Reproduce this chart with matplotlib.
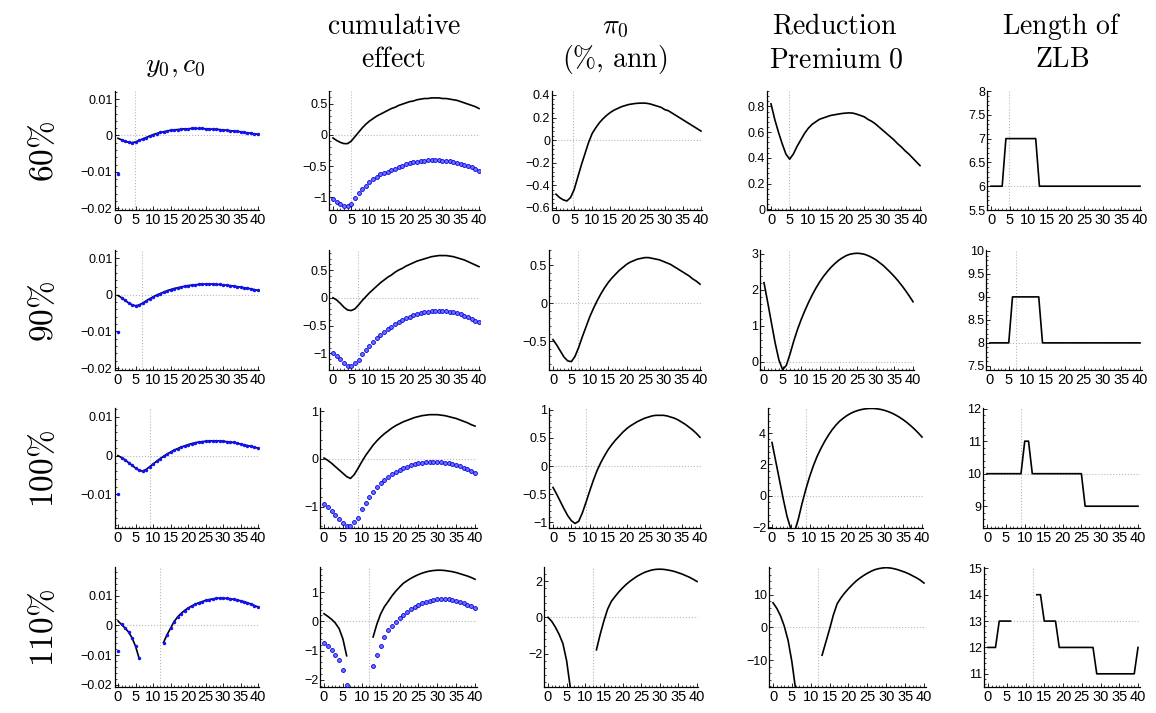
import numpy as np
import matplotlib
matplotlib.use('Agg')
import matplotlib.pyplot as plt
from matplotlib.ticker import MultipleLocator, AutoMinorLocator, FuncFormatter

plt.rcParams['mathtext.fontset'] = 'cm'
plt.rcParams['font.family'] = ['Liberation Sans', 'DejaVu Sans']

t = np.arange(41)

# ---------------- data ----------------
row_labels = ['60%', '90%', '100%', '110%']
zlb_marker = [4.8, 6.8, 9.0, 12.0]

# 60%
y0_60 = [-0.0008, -0.0012, -0.0016, -0.0019, -0.0020, -0.0018, -0.0014, -0.0010, -0.0006, -0.0002,
         0.0002, 0.0005, 0.0008, 0.0010, 0.0012, 0.0014, 0.0015, 0.0016, 0.0017, 0.0018,
         0.0018, 0.0019, 0.0019, 0.0019, 0.0019, 0.0018, 0.0018, 0.0017, 0.0017, 0.0016,
         0.0015, 0.0014, 0.0013, 0.0012, 0.0011, 0.0010, 0.0008, 0.0007, 0.0006, 0.0004, 0.0003]
c0_60 = [-0.0105] + y0_60[1:]
cum_line_60 = [-0.05, -0.09, -0.12, -0.14, -0.14, -0.10, -0.03, 0.04, 0.11, 0.17,
               0.22, 0.26, 0.30, 0.33, 0.36, 0.39, 0.42, 0.44, 0.47, 0.49,
               0.51, 0.53, 0.54, 0.56, 0.57, 0.58, 0.58, 0.59, 0.59, 0.59,
               0.58, 0.58, 0.57, 0.56, 0.55, 0.53, 0.51, 0.49, 0.47, 0.45, 0.42]
cum_dots_60 = [-1.03, -1.08, -1.11, -1.13, -1.13, -1.10, -1.01, -0.93, -0.86, -0.81,
               -0.76, -0.71, -0.67, -0.63, -0.61, -0.59, -0.56, -0.54, -0.51, -0.49,
               -0.47, -0.45, -0.44, -0.43, -0.42, -0.41, -0.40, -0.40, -0.40, -0.40,
               -0.41, -0.41, -0.42, -0.43, -0.45, -0.46, -0.48, -0.50, -0.52, -0.54, -0.57]
pi_60 = [-0.48, -0.51, -0.53, -0.54, -0.51, -0.44, -0.33, -0.22, -0.12, -0.02,
         0.06, 0.11, 0.155, 0.19, 0.22, 0.245, 0.265, 0.28, 0.295, 0.305,
         0.315, 0.32, 0.325, 0.327, 0.328, 0.326, 0.32, 0.31, 0.30, 0.29,
         0.27, 0.26, 0.24, 0.22, 0.20, 0.18, 0.16, 0.14, 0.12, 0.10, 0.08]
prem_60 = [0.82, 0.70, 0.60, 0.51, 0.43, 0.39, 0.43, 0.49, 0.54, 0.59,
           0.63, 0.66, 0.68, 0.70, 0.71, 0.72, 0.73, 0.735, 0.74, 0.745,
           0.748, 0.75, 0.748, 0.74, 0.73, 0.72, 0.70, 0.685, 0.665, 0.64,
           0.615, 0.59, 0.565, 0.54, 0.51, 0.485, 0.455, 0.43, 0.40, 0.37, 0.34]
zlb_60 = [6, 6, 6, 6, 7, 7, 7, 7, 7, 7,
          7, 7, 7, 6, 6, 6, 6, 6, 6, 6,
          6, 6, 6, 6, 6, 6, 6, 6, 6, 6,
          6, 6, 6, 6, 6, 6, 6, 6, 6, 6, 6]

# 90%
y0_90 = [-0.0002, -0.0008, -0.0015, -0.0022, -0.0027, -0.0030, -0.0028, -0.0023, -0.0017, -0.0011,
         -0.0006, -0.0001, 0.0003, 0.0007, 0.0011, 0.0014, 0.0017, 0.0019, 0.0021, 0.0023,
         0.0025, 0.0026, 0.0027, 0.0028, 0.0029, 0.0029, 0.0029, 0.0029, 0.0028, 0.0028,
         0.0027, 0.0026, 0.0025, 0.0024, 0.0022, 0.0021, 0.0019, 0.0018, 0.0016, 0.0014, 0.0012]
c0_90 = [-0.0102] + y0_90[1:]
cum_line_90 = [0.00, -0.04, -0.10, -0.17, -0.22, -0.23, -0.20, -0.13, -0.05, 0.02,
               0.09, 0.15, 0.21, 0.27, 0.32, 0.37, 0.41, 0.46, 0.50, 0.53,
               0.57, 0.60, 0.63, 0.66, 0.68, 0.70, 0.72, 0.74, 0.75, 0.76,
               0.76, 0.76, 0.75, 0.74, 0.72, 0.70, 0.68, 0.65, 0.62, 0.59, 0.56]
cum_dots_90 = [-0.99, -1.04, -1.11, -1.18, -1.22, -1.23, -1.18, -1.12, -1.02, -0.94,
               -0.86, -0.79, -0.73, -0.67, -0.62, -0.57, -0.52, -0.48, -0.44, -0.40,
               -0.37, -0.34, -0.31, -0.29, -0.27, -0.26, -0.25, -0.24, -0.23, -0.23,
               -0.23, -0.24, -0.25, -0.26, -0.28, -0.30, -0.32, -0.35, -0.38, -0.41, -0.44]
pi_90 = [-0.48, -0.55, -0.63, -0.71, -0.76, -0.77, -0.70, -0.58, -0.44, -0.31,
         -0.18, -0.07, 0.03, 0.12, 0.20, 0.27, 0.33, 0.38, 0.43, 0.47,
         0.51, 0.54, 0.56, 0.58, 0.59, 0.60, 0.60, 0.59, 0.58, 0.57,
         0.55, 0.53, 0.51, 0.48, 0.45, 0.42, 0.39, 0.36, 0.32, 0.29, 0.25]
prem_90 = [2.20, 1.65, 1.08, 0.52, 0.05, -0.22, -0.10, 0.22, 0.58, 0.90,
           1.18, 1.43, 1.66, 1.87, 2.06, 2.23, 2.38, 2.51, 2.63, 2.73,
           2.82, 2.89, 2.95, 2.99, 3.01, 3.02, 3.01, 2.99, 2.95, 2.90,
           2.84, 2.76, 2.68, 2.58, 2.48, 2.37, 2.25, 2.12, 1.98, 1.83, 1.67]
zlb_90 = [8, 8, 8, 8, 8, 8, 9, 9, 9, 9,
          9, 9, 9, 9, 8, 8, 8, 8, 8, 8,
          8, 8, 8, 8, 8, 8, 8, 8, 8, 8,
          8, 8, 8, 8, 8, 8, 8, 8, 8, 8, 8]

# 100%
y0_100 = [0.0000, -0.0005, -0.0011, -0.0018, -0.0025, -0.0032, -0.0038, -0.0040, -0.0036, -0.0029,
          -0.0022, -0.0015, -0.0008, -0.0002, 0.0004, 0.0009, 0.0014, 0.0018, 0.0022, 0.0025,
          0.0028, 0.0031, 0.0033, 0.0035, 0.0036, 0.0037, 0.0038, 0.0038, 0.0038, 0.0038,
          0.0037, 0.0036, 0.0035, 0.0034, 0.0032, 0.0030, 0.0028, 0.0026, 0.0024, 0.0022, 0.0019]
c0_100 = [-0.0098] + y0_100[1:]
cum_line_100 = [0.02, -0.03, -0.09, -0.16, -0.23, -0.30, -0.37, -0.41, -0.33, -0.20,
                -0.06, 0.07, 0.18, 0.29, 0.38, 0.46, 0.53, 0.59, 0.65, 0.70,
                0.74, 0.78, 0.81, 0.84, 0.87, 0.89, 0.91, 0.92, 0.93, 0.93,
                0.93, 0.92, 0.91, 0.89, 0.87, 0.85, 0.82, 0.79, 0.76, 0.72, 0.69]
cum_dots_100 = [-0.95, -1.01, -1.09, -1.18, -1.27, -1.34, -1.40, -1.40, -1.33, -1.23,
                -1.06, -0.92, -0.80, -0.69, -0.59, -0.51, -0.44, -0.38, -0.32, -0.27,
                -0.23, -0.19, -0.16, -0.13, -0.11, -0.09, -0.08, -0.07, -0.06, -0.06,
                -0.06, -0.07, -0.08, -0.09, -0.11, -0.13, -0.15, -0.18, -0.21, -0.25, -0.29]
pi_100 = [-0.38, -0.50, -0.63, -0.76, -0.88, -0.97, -1.02, -0.98, -0.83, -0.64,
          -0.44, -0.25, -0.08, 0.06, 0.18, 0.29, 0.38, 0.46, 0.53, 0.60,
          0.66, 0.71, 0.75, 0.79, 0.82, 0.85, 0.87, 0.89, 0.90, 0.90,
          0.90, 0.89, 0.87, 0.85, 0.82, 0.78, 0.74, 0.69, 0.64, 0.58, 0.51]
prem_100 = [3.4, 2.2, 1.0, -0.2, -1.3, -2.1, -2.3, -1.5, -0.5, 0.4,
            1.2, 1.9, 2.5, 3.0, 3.45, 3.85, 4.2, 4.5, 4.75, 4.95,
            5.12, 5.26, 5.37, 5.45, 5.51, 5.55, 5.57, 5.57, 5.55, 5.51,
            5.45, 5.37, 5.27, 5.15, 5.01, 4.85, 4.67, 4.47, 4.25, 4.01, 3.75]
zlb_100 = [10, 10, 10, 10, 10, 10, 10, 10, 10, 10,
           11, 11, 10, 10, 10, 10, 10, 10, 10, 10,
           10, 10, 10, 10, 10, 10, 9, 9, 9, 9,
           9, 9, 9, 9, 9, 9, 9, 9, 9, 9, 9]

# 110% (no solution between t=7 and t=12)
y0_110 = [0.0015, 0.0003, -0.0009, -0.0022, -0.0042, -0.0070, -0.0110, None, None, None,
          None, None, None, -0.0058, -0.0032, -0.0010, 0.0012, 0.0028, 0.0040, 0.0050,
          0.0058, 0.0065, 0.0071, 0.0076, 0.0080, 0.0084, 0.0087, 0.0089, 0.0091, 0.0092,
          0.0092, 0.0091, 0.0090, 0.0088, 0.0086, 0.0083, 0.0080, 0.0076, 0.0072, 0.0067, 0.0062]
c0_110 = [-0.0085] + y0_110[1:]
cum_line_110 = [0.26, 0.17, 0.07, -0.06, -0.25, -0.60, -1.18, None, None, None,
                None, None, None, -0.54, -0.10, 0.25, 0.50, 0.68, 0.87, 1.03,
                1.17, 1.30, 1.39, 1.47, 1.54, 1.60, 1.65, 1.69, 1.72, 1.74,
                1.75, 1.75, 1.74, 1.72, 1.70, 1.67, 1.63, 1.59, 1.55, 1.50, 1.44]
cum_dots_110 = [-0.73, -0.86, -0.99, -1.15, -1.33, -1.68, -2.19, None, None, None,
                None, None, None, -1.54, -1.14, -0.84, -0.54, -0.31, -0.15, -0.02,
                0.11, 0.22, 0.32, 0.41, 0.49, 0.56, 0.62, 0.67, 0.71, 0.74,
                0.76, 0.77, 0.76, 0.75, 0.73, 0.70, 0.66, 0.62, 0.57, 0.51, 0.45]
pi_110 = [0.0, -0.22, -0.55, -0.95, -1.45, -2.40, -3.90, None, None, None,
          None, None, None, -1.80, -0.95, -0.20, 0.45, 0.88, 1.15, 1.40,
          1.62, 1.82, 1.99, 2.14, 2.28, 2.39, 2.49, 2.56, 2.62, 2.65,
          2.66, 2.65, 2.62, 2.58, 2.53, 2.46, 2.39, 2.30, 2.21, 2.10, 1.98]
prem_110 = [7.5, 5.8, 3.5, 0.3, -4.0, -10.5, -19.0, None, None, None,
            None, None, None, -8.5, -4.5, -0.5, 3.8, 7.2, 9.0, 10.5,
            11.8, 13.0, 14.1, 15.0, 15.8, 16.5, 17.1, 17.6, 17.9, 18.1,
            18.2, 18.1, 17.9, 17.6, 17.2, 16.8, 16.3, 15.7, 15.1, 14.4, 13.5]
zlb_110 = [12, 12, 12, 13, 13, 13, 13, None, None, None,
           None, None, None, 14, 14, 13, 13, 13, 13, 12,
           12, 12, 12, 12, 12, 12, 12, 12, 12, 11,
           11, 11, 11, 11, 11, 11, 11, 11, 11, 11, 12]

rows = [
    (y0_60, c0_60, cum_line_60, cum_dots_60, pi_60, prem_60, zlb_60),
    (y0_90, c0_90, cum_line_90, cum_dots_90, pi_90, prem_90, zlb_90),
    (y0_100, c0_100, cum_line_100, cum_dots_100, pi_100, prem_100, zlb_100),
    (y0_110, c0_110, cum_line_110, cum_dots_110, pi_110, prem_110, zlb_110),
]

# ---------------- layout (pixels) ----------------
W, H = 1156, 713
row_px = [(91, 210), (250, 370), (408, 528), (567, 687)]
col_px = [
    [(118, 258), (333, 479), (556, 701), (771, 920), (991, 1140)],
    [(118, 258), (333, 479), (553, 700), (764, 913), (990, 1140)],
    [(118, 258), (324, 475), (553, 700), (772, 922), (987, 1138)],
    [(118, 258), (324, 475), (548, 697), (773, 924), (988, 1138)],
]
ylims = [
    [(-0.0205, 0.0122), (-1.2, 0.7), (-0.62, 0.435), (-0.005, 0.92), (5.5, 8.0)],
    [(-0.0205, 0.0122), (-1.3, 0.86), (-0.88, 0.70), (-0.23, 3.11), (7.41, 10.02)],
    [(-0.0187, 0.0123), (-1.45, 1.07), (-1.1, 1.03), (-2.05, 5.6), (8.33, 12.02)],
    [(-0.0208, 0.0197), (-2.25, 1.86), (-3.85, 2.78), (-18.2, 18.4), (10.5, 15.05)],
]
yticks = [
    [[-0.02, -0.01, 0, 0.01], [-1, -0.5, 0, 0.5], [-0.6, -0.4, -0.2, 0, 0.2, 0.4],
     [0, 0.2, 0.4, 0.6, 0.8], [5.5, 6, 6.5, 7, 7.5, 8]],
    [[-0.02, -0.01, 0, 0.01], [-1, -0.5, 0, 0.5], [-0.5, 0, 0.5], [0, 1, 2, 3],
     [7.5, 8, 8.5, 9, 9.5, 10]],
    [[-0.01, 0, 0.01], [-1, 0, 1], [-1, -0.5, 0, 0.5, 1], [-2, 0, 2, 4], [9, 10, 11, 12]],
    [[-0.02, -0.01, 0, 0.01], [-2, -1, 0, 1], [-2, 0, 2], [-10, 0, 10], [11, 12, 13, 14, 15]],
]
zlb_ref = [6, 8, 10, 13]


def fmt(v, pos):
    return ('%g' % v).replace('-', '\u2212')


fig = plt.figure(figsize=(W / 100, H / 100), dpi=100)

for r in range(4):
    y0, c0, cum_line, cum_dots, pi0, prem, zlb = [np.array(s, dtype=float) for s in rows[r]]
    series = [y0, cum_line, pi0, prem, zlb]
    top, bot = row_px[r]
    for c in range(5):
        x0, x40 = col_px[r][c]
        unit = (x40 - x0) / 40.0
        left = x0 - unit * 1.0
        right = x40 + unit * 0.4
        ax = fig.add_axes([left / W, 1 - bot / H, (right - left) / W, (bot - top) / H])
        ax.set_xlim(-1, 40.4)
        ax.set_ylim(*ylims[r][c])

        grid_kw = dict(color='#b8b8b8', ls=':', lw=0.8, zorder=0)
        ax.axvline(zlb_marker[r], **grid_kw)
        ax.axhline(zlb_ref[r] if c == 4 else 0, **grid_kw)

        ax.plot(t, series[c], color='black', lw=1.2, zorder=2)
        if c == 0:
            ax.plot(t, c0, 'o', ms=2.5, color='#1010ff', mew=0, zorder=3)
        if c == 1:
            ax.plot(t, cum_dots, 'o', ms=2.8, mfc='#7070ff', mec='#0000e0', mew=0.6, zorder=3)

        for s in ['top', 'right']:
            ax.spines[s].set_visible(False)
        for s in ['left', 'bottom']:
            ax.spines[s].set_linewidth(0.9)
        ax.set_xticks(range(0, 41, 5))
        ax.xaxis.set_minor_locator(MultipleLocator(1))
        ax.set_yticks(yticks[r][c])
        ax.yaxis.set_minor_locator(AutoMinorLocator(5))
        ax.yaxis.set_major_formatter(FuncFormatter(fmt))
        ax.tick_params(which='major', direction='in', length=3, width=0.6, pad=1.5)
        ax.tick_params(axis='x', labelsize=10.5, pad=2)
        ax.tick_params(axis='y', labelsize=9)
        ax.tick_params(which='minor', direction='in', length=1.5, width=0.5)
        ax.patch.set_alpha(0)

# ---------------- titles & row labels ----------------
def ftext(x, y, s, **kw):
    fig.text(x / W, 1 - y / H, s, ha='center', va='center', **kw)

tsize = 20
ftext(175, 66, r'$y_0, c_0$', fontsize=tsize)
ftext(394, 27, r'$\mathrm{cumulative}$', fontsize=tsize)
ftext(394, 60, r'$\mathrm{effect}$', fontsize=tsize)
ftext(615, 27, r'$\pi_0$', fontsize=tsize)
ftext(615, 60, r'$(\%,\,\mathrm{ann})$', fontsize=tsize)
ftext(835, 27, r'$\mathrm{Reduction}$', fontsize=tsize)
ftext(836, 60, r'$\mathrm{Premium}\ 0$', fontsize=tsize)
ftext(1062, 27, r'$\mathrm{Length\ of}$', fontsize=tsize)
ftext(1062, 60, r'$\mathrm{ZLB}$', fontsize=tsize)

for r, lab in enumerate(row_labels):
    ftext(45, (row_px[r][0] + row_px[r][1]) / 2 + 1, r'$' + lab.replace('%', r'\%') + '$',
          fontsize=24, rotation=90)

fig.savefig('out.png', dpi=100, facecolor='white')
